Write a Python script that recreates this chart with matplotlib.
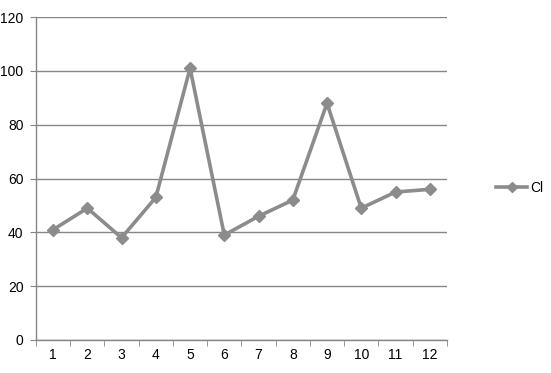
import matplotlib
matplotlib.use("Agg")
import matplotlib.pyplot as plt
import numpy as np

plt.rcParams['font.family'] = ['Liberation Sans', 'DejaVu Sans']

categories = ['1', '2', '3', '4', '5', '6', '7', '8', '9', '10', '11', '12']
cl_values = [41, 49, 38, 53, 101, 39, 46, 52, 88, 49, 55, 56]

grey_line = '#8c8c8c'
grey_axis = '#868686'

fig = plt.figure(figsize=(5.51, 3.73), dpi=100)
ax = fig.add_axes([0.0653, 0.0885, 0.7457, 0.8655])

x = np.arange(len(categories))
ax.plot(x, cl_values, color=grey_line, linewidth=2.6, marker='D', markersize=6,
        markerfacecolor=grey_line, markeredgecolor=grey_line, label='Cl')

ax.set_xlim(-0.5, len(categories) - 0.5)
ax.set_ylim(0, 120)
ax.set_yticks(range(0, 121, 20))
ax.set_xticks(x)
ax.set_xticklabels(categories)
ax.set_xticks(np.arange(-0.5, len(categories), 1.0), minor=True)

ax.grid(axis='y', color=grey_axis, linewidth=1)
ax.set_axisbelow(True)
for s in ['top', 'right']:
    ax.spines[s].set_visible(False)
for s in ['left', 'bottom']:
    ax.spines[s].set_color(grey_axis)
    ax.spines[s].set_linewidth(1)

ax.tick_params(axis='y', length=4, color=grey_axis, labelsize=10, pad=5)
ax.tick_params(axis='x', which='major', length=0, labelsize=10, pad=6)
ax.tick_params(axis='x', which='minor', length=4, color=grey_axis)

ax.legend(loc='center left', bbox_to_anchor=(1.09, 0.47), frameon=False,
          fontsize=10, handlelength=2.2, handletextpad=0.25, markerscale=0.8)

fig.savefig('out.png', dpi=100)
